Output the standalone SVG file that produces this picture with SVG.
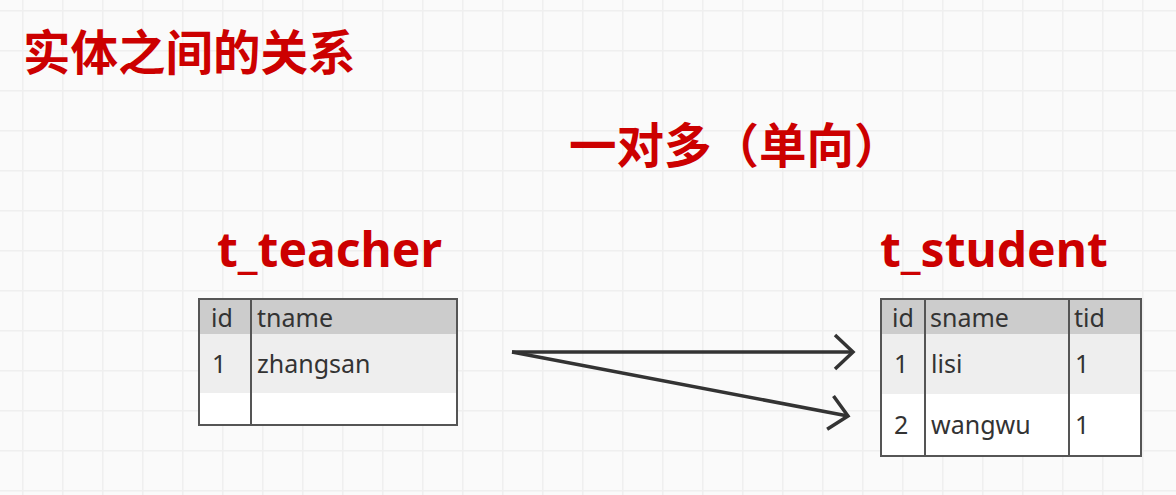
<svg xmlns="http://www.w3.org/2000/svg" width="1176" height="495" viewBox="0 0 1176 495">
<style>
.title{font-family:"Noto Sans CJK SC","Noto Sans",sans-serif;font-weight:bold;font-size:47.5px;fill:#cc0000}
.tname{font-family:"Noto Sans","Open Sans",sans-serif;font-weight:bold;font-size:48px;fill:#cc0000}
.cell{font-family:"Noto Sans","Open Sans",sans-serif;font-size:25px;fill:#333}
.border{fill:none;stroke:#555;stroke-width:2}
.hdr{fill:#cccccc}
.r1{fill:#eeeeee}
.r2{fill:#ffffff}
.conn{fill:none;stroke:#333;stroke-width:3.5}
</style>
<defs>
<pattern id="grid" x="22" y="10" width="40" height="40" patternUnits="userSpaceOnUse">
<rect width="40" height="40" fill="#fafafa"/>
<path d="M0,0 H40 M0,0 V40" stroke="#efefef" stroke-width="3" fill="none"/>
</pattern>
<marker id="arr" markerUnits="userSpaceOnUse" markerWidth="50" markerHeight="50" viewBox="-25 -25 50 50" refX="0" refY="0" orient="auto">
<path d="M-18,-17 L0,0 L-18,17" fill="none" stroke="#333" stroke-width="3.5"/>
</marker>
</defs>
<rect width="1176" height="495" fill="url(#grid)"/>
<g id="title1"><text class="title" x="23" y="70">实体之间的关系</text></g>
<g id="title2"><text class="title" x="569" y="163">一对多（单向）</text></g>
<g id="t_teacher">
<text class="tname" x="217" y="267">t_teacher</text>
<rect class="hdr" x="199" y="299" width="258" height="35"/>
<rect class="r1" x="199" y="334" width="258" height="59"/>
<rect class="r2" x="199" y="393" width="258" height="32"/>
<rect class="border" x="199" y="299" width="258" height="126"/>
<line class="border" x1="251" y1="299" x2="251" y2="425"/>
<text class="cell" x="211" y="327">id</text>
<text class="cell" x="257" y="327">tname</text>
<text class="cell" x="212" y="373">1</text>
<text class="cell" x="257" y="373">zhangsan</text>
</g>
<g id="t_student">
<text class="tname" x="880" y="267">t_student</text>
<rect class="hdr" x="881" y="299" width="260" height="35"/>
<rect class="r1" x="881" y="334" width="260" height="60"/>
<rect class="r2" x="881" y="394" width="260" height="62"/>
<rect class="border" x="881" y="299" width="260" height="157"/>
<line class="border" x1="925" y1="299" x2="925" y2="456"/>
<line class="border" x1="1069" y1="299" x2="1069" y2="456"/>
<text class="cell" x="892" y="327">id</text>
<text class="cell" x="930" y="327">sname</text>
<text class="cell" x="1074" y="327">tid</text>
<text class="cell" x="894" y="373">1</text>
<text class="cell" x="931" y="373">lisi</text>
<text class="cell" x="1075" y="373">1</text>
<text class="cell" x="894" y="434">2</text>
<text class="cell" x="931" y="434">wangwu</text>
<text class="cell" x="1075" y="434">1</text>
</g>
<g id="connectors">
<line class="conn" x1="512" y1="352" x2="853" y2="352" marker-end="url(#arr)"/>
<line class="conn" x1="512" y1="352" x2="848" y2="416" marker-end="url(#arr)"/>
</g>
</svg>
